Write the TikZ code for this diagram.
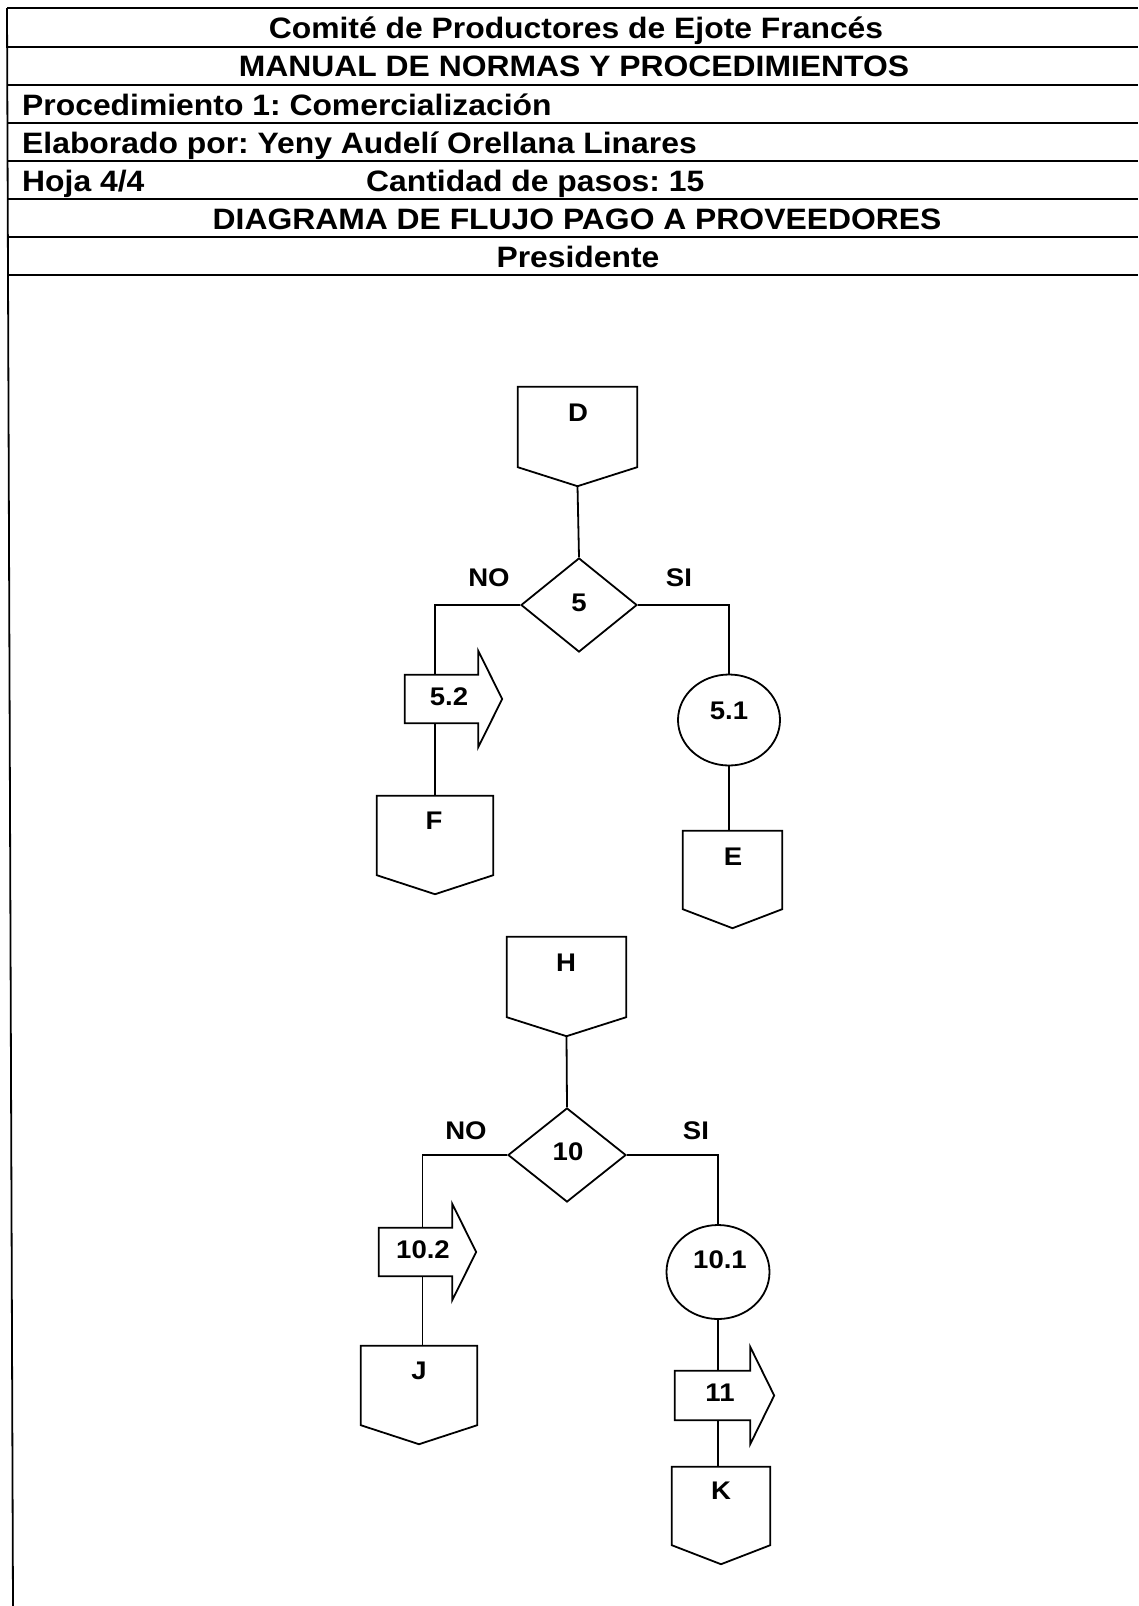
\documentclass[tikz,border=0pt]{standalone}
\usepackage{fontspec}
\setmainfont[FakeStretch=1.08]{Liberation Sans}
\usetikzlibrary{shapes.geometric}
\frenchspacing
\newcommand\OffPg[1]{\draw[shp] (#1.north west) -- (#1.north east) -- ([yshift=19pt]#1.south east) -- (#1.south) -- ([yshift=19pt]#1.south west) -- cycle;}
\newcommand\BlkArr[1]{\draw[shp] (#1.north west) -- (#1.north east) -- ([yshift=24pt]#1.north east) -- ([xshift=24pt]#1.east) -- ([yshift=-24pt]#1.south east) -- (#1.south east) -- (#1.south west) -- cycle;}
\begin{document}
\frenchspacing
\begin{tikzpicture}[x=1pt,y=-1pt,
  shp/.style={draw=black,line width=1.8pt,line join=miter},
  ln/.style={draw=black,line width=1.8pt},
  hdr/.style={font=\fontsize{29.5}{34}\selectfont\bfseries\frenchspacing,inner sep=0pt,anchor=base},
  lab/.style={font=\fontsize{25.5}{30}\selectfont\bfseries,inner sep=0pt,anchor=center},
  box/.style={draw=none,inner sep=0pt,rectangle}]
\useasboundingbox (0,0) rectangle (1138,1606);
\fill[white] (0,0) rectangle (1138,1606);
% table
\draw[ln] (7,8) -- (13,1606);
\foreach \yy in {8,47,85,123,161,199,237,275}{\draw[ln] (7,\yy) -- (1138,\yy);}
\node[hdr] (h1) at (576,38) {Comité de Productores de Ejote Francés};
\node[hdr] (h2) at (574,76.5) {MANUAL DE NORMAS Y PROCEDIMIENTOS};
\node[hdr,anchor=base west] (h3) at (22,115) {Procedimiento 1: Comercialización};
\node[hdr,anchor=base west] (h4) at (22,153) {Elaborado por: Yeny Audelí Orellana Linares};
\node[hdr,anchor=base west] (h5) at (22,191) {Hoja 4/4};
\node[hdr,anchor=base west] (h6) at (366,191) {Cantidad de pasos: 15};
\node[hdr] (h7) at (577,229) {DIAGRAMA DE FLUJO PAGO A PROVEEDORES};
\node[hdr] (h8) at (578,267) {Presidente};
% ---- top group
\node[box,minimum width=119pt,minimum height=99pt] (D) at (577.5,436.5) {};
\OffPg{D}
\node[lab] (Dt) at (578,413) {D};
\node[diamond,shp,inner sep=0pt,minimum width=116pt,minimum height=94pt] (d5) at (579,605) {};
\node[lab] (d5t) at (579,603) {5};
\node[lab] (no5) at (489,578) {NO};
\node[lab] (si5) at (679,578) {SI};
\node[box,minimum width=73pt,minimum height=48pt] (a52) at (441.5,699) {};
\BlkArr{a52}
\node[lab] (a52t) at (449,697) {5.2};
\node[box,minimum width=116pt,minimum height=98pt] (F) at (435,845) {};
\OffPg{F}
\node[lab] (Ft) at (434,821) {F};
\node[ellipse,shp,inner sep=0pt,minimum width=102pt,minimum height=91pt] (c51) at (729,720) {};
\node[lab] (c51t) at (729,711) {5.1};
\node[box,minimum width=99pt,minimum height=97pt] (E) at (732.5,879.5) {};
\OffPg{E}
\node[lab] (Et) at (733,857) {E};
\draw[ln] (D.south) -- (d5.north);
\draw[ln] (d5.west) -| (a52.north -| F.north);
\draw[ln] (a52.south -| F.north) -- (F.north);
\draw[ln] (d5.east) -| (c51.north);
\draw[ln] (c51.south) -- (c51.south |- E.north);
% ---- bottom group
\node[box,minimum width=119pt,minimum height=99pt] (H) at (566.5,986.5) {};
\OffPg{H}
\node[lab] (Ht) at (566,963) {H};
\node[diamond,shp,inner sep=0pt,minimum width=118pt,minimum height=94pt] (d10) at (567,1155) {};
\node[lab] (d10t) at (568,1152) {10};
\node[lab] (no10) at (466,1131) {NO};
\node[lab] (si10) at (696,1131) {SI};
\node[box,minimum width=73pt,minimum height=48pt] (a102) at (415.5,1252) {};
\BlkArr{a102}
\node[lab] (a102t) at (423,1250) {10.2};
\node[box,minimum width=116pt,minimum height=98pt] (J) at (419,1395) {};
\OffPg{J}
\node[lab] (Jt) at (419,1371) {J};
\node[ellipse,shp,inner sep=0pt,minimum width=103pt,minimum height=94pt] (c101) at (718,1272) {};
\node[lab] (c101t) at (720,1260) {10.1};
\node[box,minimum width=75pt,minimum height=49pt] (a11) at (712.5,1395.5) {};
\BlkArr{a11}
\node[lab] (a11t) at (720,1393) {11};
\node[box,minimum width=98pt,minimum height=97pt] (K) at (721,1515.5) {};
\OffPg{K}
\node[lab] (Kt) at (721,1491) {K};
\draw[ln] (H.south) -- (d10.north);
\draw[ln] (d10.west) -| ([xshift=7pt]a102.north);
\draw[ln] ([xshift=7pt]a102.south) -- ([xshift=7pt]a102.south |- J.north);
\draw[ln] (d10.east) -| (c101.north);
\draw[ln] (c101.south) -- (c101.south |- a11.north);
\draw[ln] (c101.south |- a11.south) -- (c101.south |- K.north);
\end{tikzpicture}
\end{document}
